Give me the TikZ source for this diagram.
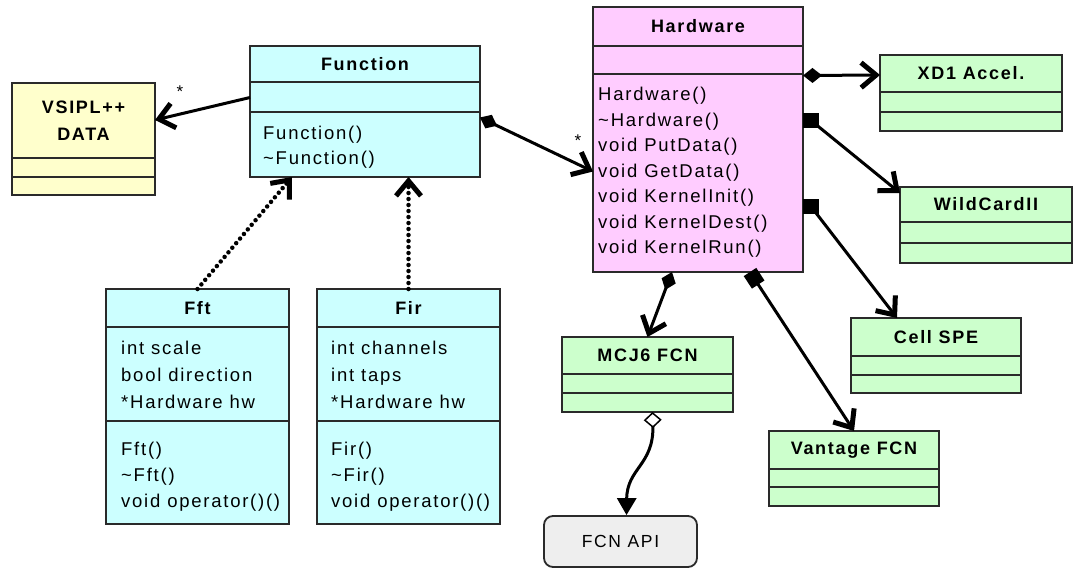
\documentclass[tikz,border=0pt]{standalone}
\usepackage{fontspec}
\setmainfont{Liberation Sans}
\newfontfamily\bodyfont{Liberation Sans}[LetterSpace=9.5]
\usetikzlibrary{arrows.meta}
\definecolor{cyanfill}{HTML}{CCFFFF}
\definecolor{yellowfill}{HTML}{FFFFCC}
\definecolor{pinkfill}{HTML}{FFCCFF}
\definecolor{greenfill}{HTML}{CCFFCC}
\definecolor{grayfill}{HTML}{EEEEEE}
\definecolor{boxborder}{HTML}{2A2A2A}
\tikzset{
  classbox/.style={draw=boxborder, line width=2pt, inner sep=0pt, outer sep=0pt},
  compline/.style={draw=boxborder, line width=2pt},
  titletext/.style={font={\bodyfont\bfseries\fontsize{18}{27}\selectfont}, align=center, inner sep=0pt},
  bodytext/.style={font={\bodyfont\fontsize{18.5}{25}\selectfont}, anchor=base west, inner sep=0pt},
  starlabel/.style={font={\fontsize{17}{17}\selectfont}, inner sep=0pt},
  sqmark/.style={fill=black, minimum width=16pt, minimum height=15pt, inner sep=0pt, outer sep=0pt, anchor=west},
  conn/.style={line width=3pt, draw=black},
  barbend/.style={-{Straight Barb[length=15pt,width=25pt,line width=5pt]}},
  assoc/.style={conn, barbend},
  comp/.style={conn, {Diamond[length=19pt,width=15pt]}-{Straight Barb[length=15pt,width=25pt,line width=5pt]}},
  compsq/.style={conn, {Square[length=15pt,width=15pt]}-{Straight Barb[length=15pt,width=25pt,line width=5pt]}},
  agg/.style={conn, {Diamond[open,fill=white,length=16pt,width=18pt,line width=1.5pt]}-{Triangle[length=17pt,width=19pt]}},
  realize/.style={line width=4.5pt, line cap=round, dash pattern=on 0pt off 6pt,
    -{Straight Barb[length=15pt,width=25pt,line width=5pt,line cap=butt]}}
}
% name, x1, y1, x2, y2, line1, line2, fill, title
\newcommand\umlclass[9]{%
  \node[classbox, fill=#8, minimum width={(#4-#2)*1pt}, minimum height={(#5-#3)*1pt}] (#1) at ({(#2+#4)/2},{(#3+#5)/2}) {};
  \draw[compline] (#2,#6) -- (#4,#6);
  \draw[compline] (#2,#7) -- (#4,#7);
  \node[titletext] (#1-title) at ({(#2+#4)/2},{(#3+#6)/2}) {#9};
}
% prefix, x, first baseline, step, list
\newcommand\bodylines[5]{%
  \foreach \t [count=\i] in {#5} {\node[bodytext] (#1\i) at (#2,{#3+(\i-1)*#4}) {\t};}%
}
\begin{document}
\begin{tikzpicture}[x=1pt,y=-1pt]
\fill[white] (0,0) rectangle (1076,571);
\useasboundingbox (0,0) rectangle (1076,571);

\umlclass{vsipl}{12}{83}{155}{195}{158}{177}{yellowfill}{VSIPL++\\DATA}
\umlclass{func}{250}{46}{480}{177}{82}{112}{cyanfill}{Function}
\umlclass{hw}{593}{7}{803}{272}{46}{74}{pinkfill}{Hardware}
\umlclass{xd1}{880}{55}{1062}{131}{92}{112}{greenfill}{XD1 Accel.}
\umlclass{wild}{900}{187}{1072}{263}{222}{243}{greenfill}{WildCardII}
\umlclass{fft}{106}{289}{289}{524}{327}{421}{cyanfill}{Fft}
\umlclass{fir}{317}{289}{500}{524}{327}{421}{cyanfill}{Fir}
\umlclass{mcj}{562}{337}{733}{412}{374}{393}{greenfill}{MCJ6 FCN}
\umlclass{cell}{851}{318}{1021}{393}{356}{375}{greenfill}{Cell SPE}
\umlclass{van}{769}{431}{939}{506}{469}{487}{greenfill}{Vantage FCN}

\node[draw=boxborder, line width=1.8pt, fill=grayfill, rounded corners=9pt,
      minimum width=153pt, minimum height=51pt, inner sep=0pt,
      font={\bodyfont\fontsize{17.5}{20}\selectfont}] (api) at (620.5,541.5) {FCN API};

\bodylines{funcop}{263}{139.5}{25}{Function(),\textasciitilde Function()}
\bodylines{hwop}{598}{100.5}{25.5}{Hardware(),\textasciitilde Hardware(),void PutData(),void GetData(),void KernelInit(),void KernelDest(),void KernelRun()}
\bodylines{fftat}{121}{354.5}{27}{int scale,bool direction,*Hardware hw}
\bodylines{fftop}{121}{455.5}{26}{Fft(),\textasciitilde Fft(),void operator()()}
\bodylines{firat}{331}{354.5}{27}{int channels,int taps,*Hardware hw}
\bodylines{firop}{331}{455.5}{26}{Fir(),\textasciitilde Fir(),void operator()()}

\draw[assoc] ([yshift=14pt]func.west) -- ([yshift=19pt]vsipl.east);
\node[starlabel] (star1) at (180,92) {*};
\draw[comp] ([yshift=-6pt]func.east) -- ([yshift=-32pt]hw.west);
\node[starlabel] (star2) at (578,141) {*};
\draw[comp] ([yshift=64pt]hw.east) -- ([yshift=18pt]xd1.west);
\node[sqmark] (sqwild) at ([yshift=19pt]hw.east) {};
\draw[assoc] (sqwild.center) -- ([yshift=-6pt]wild.north west);
\node[sqmark] (sqcell) at ([yshift=-67pt]hw.east) {};
\draw[assoc] (sqcell.center) -- ([xshift=46pt]cell.north west);
\draw[comp] ([xshift=-26pt]hw.south) -- (mcj.north);
\draw[compsq] ([xshift=52pt]hw.south) -- (van.north);
\draw[agg] ([xshift=5pt]mcj.south) .. controls (654,465) and (627,468) .. ([xshift=6pt]api.north);
\draw[realize] (fft.north) -- ([xshift=-73pt]func.south);
\draw[realize] (fir.north) -- (fir.north |- func.south);
\end{tikzpicture}
\end{document}
